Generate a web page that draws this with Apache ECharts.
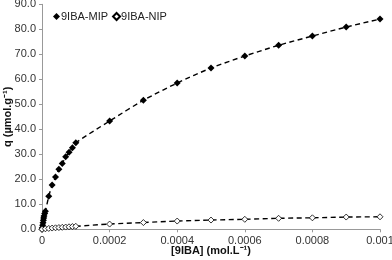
<!DOCTYPE html>
<html><head><meta charset="utf-8">
<script src="https://cdn.jsdelivr.net/npm/echarts@6/dist/echarts.min.js"></script>
<style>html,body{margin:0;padding:0;background:#fff}#c{width:392px;height:260px}</style>
</head><body><div id="c"></div>
<script>
const mipX = [0,0.000001,0.000002,0.000003,0.000004,0.000005,0.000006,0.000008,0.00001,0.00002,0.00003,0.00004,0.00005,0.00006,0.00007,0.00008,0.00009,0.0001,0.0002,0.0003,0.0004,0.0005,0.0006,0.0007,0.0008,0.0009,0.001];
const mipY = [0,0.6,1.6,2.6,3.6,4.5,5.3,6.3,7.2,13.2,17.7,20.9,24.0,26.3,29.0,30.8,32.6,34.6,43.3,51.6,58.5,64.5,69.3,73.6,77.3,80.9,84.1];
const nipX = [0,0.00001,0.00002,0.00003,0.00004,0.00005,0.00006,0.00007,0.00008,0.00009,0.0001,0.0002,0.0003,0.0004,0.0005,0.0006,0.0007,0.0008,0.0009,0.001];
const nipY = [0,0.2,0.35,0.5,0.6,0.7,0.8,0.9,1.0,1.1,1.2,2.1,2.7,3.3,3.7,4.0,4.4,4.6,4.9,5.0];
const xTicks = {min:0,max:0.001,interval:0.0002};
const yTicks = {min:0,max:90,interval:10};

const pair = (xs, ys) => xs.map((x,i)=>[x, ys[i]]);
const chart = echarts.init(document.getElementById('c'), null, {renderer:'canvas'});
const font = 'Liberation Sans, Arial, sans-serif';
chart.setOption({
  animation:false,
  textStyle:{fontFamily:font},
  grid:{left:42,right:12,top:4.3,bottom:30.7,containLabel:false,outerBoundsMode:'none'},
  legend:{
    left:48, top:6, itemGap:4, itemWidth:7, itemHeight:7,
    textStyle:{fontFamily:font,fontSize:11,color:'#222',padding:[0,0,0,-4]},
    data:[{name:'9IBA-MIP',icon:'diamond'},{name:'9IBA-NIP',icon:'diamond'}]
  },
  xAxis:{
    type:'value', min:xTicks.min, max:xTicks.max, interval:xTicks.interval,
    name:'[9IBA] (mol.L⁻¹)', nameLocation:'middle', nameGap:16, nameMoveOverlap:false,
    nameTextStyle:{fontFamily:font,fontSize:11,fontWeight:'bold',color:'#111'},
    axisLine:{lineStyle:{color:'#999',width:1}},
    axisTick:{show:true,length:3,lineStyle:{color:'#999'}},
    axisLabel:{fontFamily:font,fontSize:11,color:'#333',margin:6,
      formatter:v=> v===0?'0':String(parseFloat(v.toFixed(4)))},
    splitLine:{show:false}
  },
  yAxis:{
    type:'value', min:yTicks.min, max:yTicks.max, interval:yTicks.interval,
    name:'q (µmol.g⁻¹)', nameLocation:'middle', nameGap:28.5, nameMoveOverlap:false,
    nameTextStyle:{fontFamily:font,fontSize:11,fontWeight:'bold',color:'#111'},
    axisLine:{show:true,lineStyle:{color:'#999',width:1}},
    axisTick:{show:true,length:3,lineStyle:{color:'#999'}},
    axisLabel:{fontFamily:font,fontSize:11,color:'#333',margin:6,formatter:v=>v.toFixed(1)},
    splitLine:{show:false}
  },
  series:[
    {name:'9IBA-MIP',type:'line',data:pair(mipX,mipY),smooth:0.3,
     symbol:'diamond',symbolSize:7,
     itemStyle:{color:'#000',borderColor:'#000',borderWidth:0},
     lineStyle:{color:'#000',width:1.4,type:[5,3.5]}},
    {name:'9IBA-NIP',type:'line',data:pair(nipX,nipY),smooth:0.3,
     symbol:'diamond',symbolSize:6,
     itemStyle:{color:'#fff',borderColor:'#000',borderWidth:0.8},
     lineStyle:{color:'#000',width:1.4,type:[5,3.5]}}
  ]
});
</script></body></html>
